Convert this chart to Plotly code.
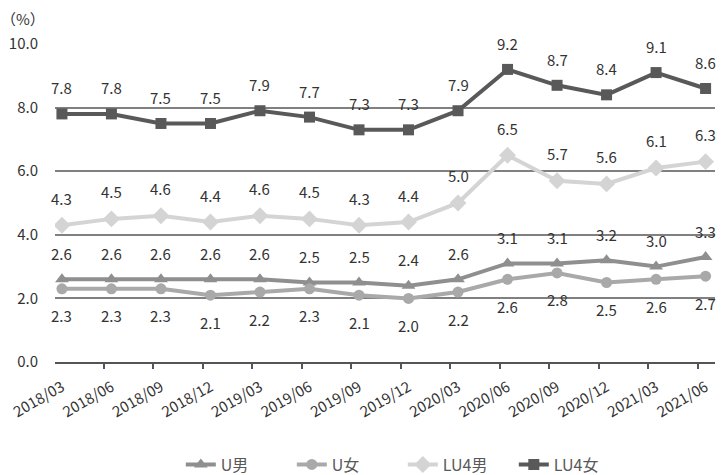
import plotly.graph_objects as go

periods = ["2018/03", "2018/06", "2018/09", "2018/12", "2019/03", "2019/06", "2019/09",
           "2019/12", "2020/03", "2020/06", "2020/09", "2020/12", "2021/03", "2021/06"]
u_male = [2.6, 2.6, 2.6, 2.6, 2.6, 2.5, 2.5, 2.4, 2.6, 3.1, 3.1, 3.2, 3.0, 3.3]
u_female = [2.3, 2.3, 2.3, 2.1, 2.2, 2.3, 2.1, 2.0, 2.2, 2.6, 2.8, 2.5, 2.6, 2.7]
lu4_male = [4.3, 4.5, 4.6, 4.4, 4.6, 4.5, 4.3, 4.4, 5.0, 6.5, 5.7, 5.6, 6.1, 6.3]
lu4_female = [7.8, 7.8, 7.5, 7.5, 7.9, 7.7, 7.3, 7.3, 7.9, 9.2, 8.7, 8.4, 9.1, 8.6]
y_ticks = [0, 2, 4, 6, 8, 10]

FONT = "Noto Sans CJK JP"
xs = list(range(len(periods)))

series = [
    ("U男", u_male, "#8f8f8f", "triangle-up", 12, 26),
    ("U女", u_female, "#a9a9a9", "circle", 11, -27),
    ("LU4男", lu4_male, "#d4d4d4", "diamond", 13, 27),
    ("LU4女", lu4_female, "#595959", "square", 11, 26),
]

fig = go.Figure()
annotations = []
for name, vals, color, symbol, msize, shift in series:
    fig.add_trace(go.Scatter(
        x=xs, y=vals, name=name, mode="lines+markers",
        line=dict(color=color, width=4),
        marker=dict(symbol=symbol, size=msize, color=color),
    ))
    for x, v in zip(xs, vals):
        annotations.append(dict(
            x=x, y=v, text=f"{v:.1f}", showarrow=False, yshift=shift,
            font=dict(family=FONT, size=15, color="#333333"),
        ))

annotations.append(dict(
    x=0, y=1, xref="paper", yref="paper", xanchor="left", yanchor="bottom",
    xshift=-56, yshift=12, text="（%）", showarrow=False,
    font=dict(family=FONT, size=15, color="#333333"),
))

x_range = [-0.14, 13.19]

# invisible trace anchoring the overlay axis that carries the tick marks
fig.add_trace(go.Scatter(x=[0], y=[0], xaxis="x2", mode="markers",
                         marker=dict(opacity=0), showlegend=False, hoverinfo="skip"))

fig.update_layout(
    width=721, height=475,
    margin=dict(l=55, r=6, t=43, b=113, autoexpand=False),
    paper_bgcolor="white", plot_bgcolor="white",
    font=dict(family=FONT, size=15, color="#333333"),
    showlegend=True,
    legend=dict(orientation="h", x=0.527, xanchor="center",
                yref="container", y=0.022, yanchor="middle",
                font=dict(family=FONT, size=16, color="#595959"),
                entrywidth=66, entrywidthmode="pixels",
                traceorder="normal"),
    xaxis=dict(
        range=x_range, tickmode="array", tickvals=xs, ticktext=periods,
        tickangle=-30, ticks="outside", ticklen=9, tickcolor="rgba(0,0,0,0)",
        showgrid=False, zeroline=False, automargin=False,
        showline=True, linecolor="#555555", linewidth=1.5,
        tickfont=dict(family=FONT, size=15, color="#333333"),
    ),
    xaxis2=dict(
        range=x_range, overlaying="x", side="bottom", anchor="y", automargin=False,
        tickmode="array", tickvals=[i - 0.16 for i in range(len(periods))],
        ticks="outside", ticklen=6, tickcolor="#555555", tickwidth=1.5,
        showticklabels=False, showgrid=False, zeroline=False, showline=False,
    ),
    yaxis=dict(
        range=[0, 10.03], tickmode="array", tickvals=y_ticks,
        ticktext=[f"{v:.1f}" for v in y_ticks], automargin=False,
        showgrid=True, gridcolor="#808080", gridwidth=1.5,
        zeroline=False, showline=False, ticks="", ticklabelstandoff=16,
        tickfont=dict(family=FONT, size=15, color="#333333"),
    ),
    annotations=annotations,
)

fig.write_html("out.html")
